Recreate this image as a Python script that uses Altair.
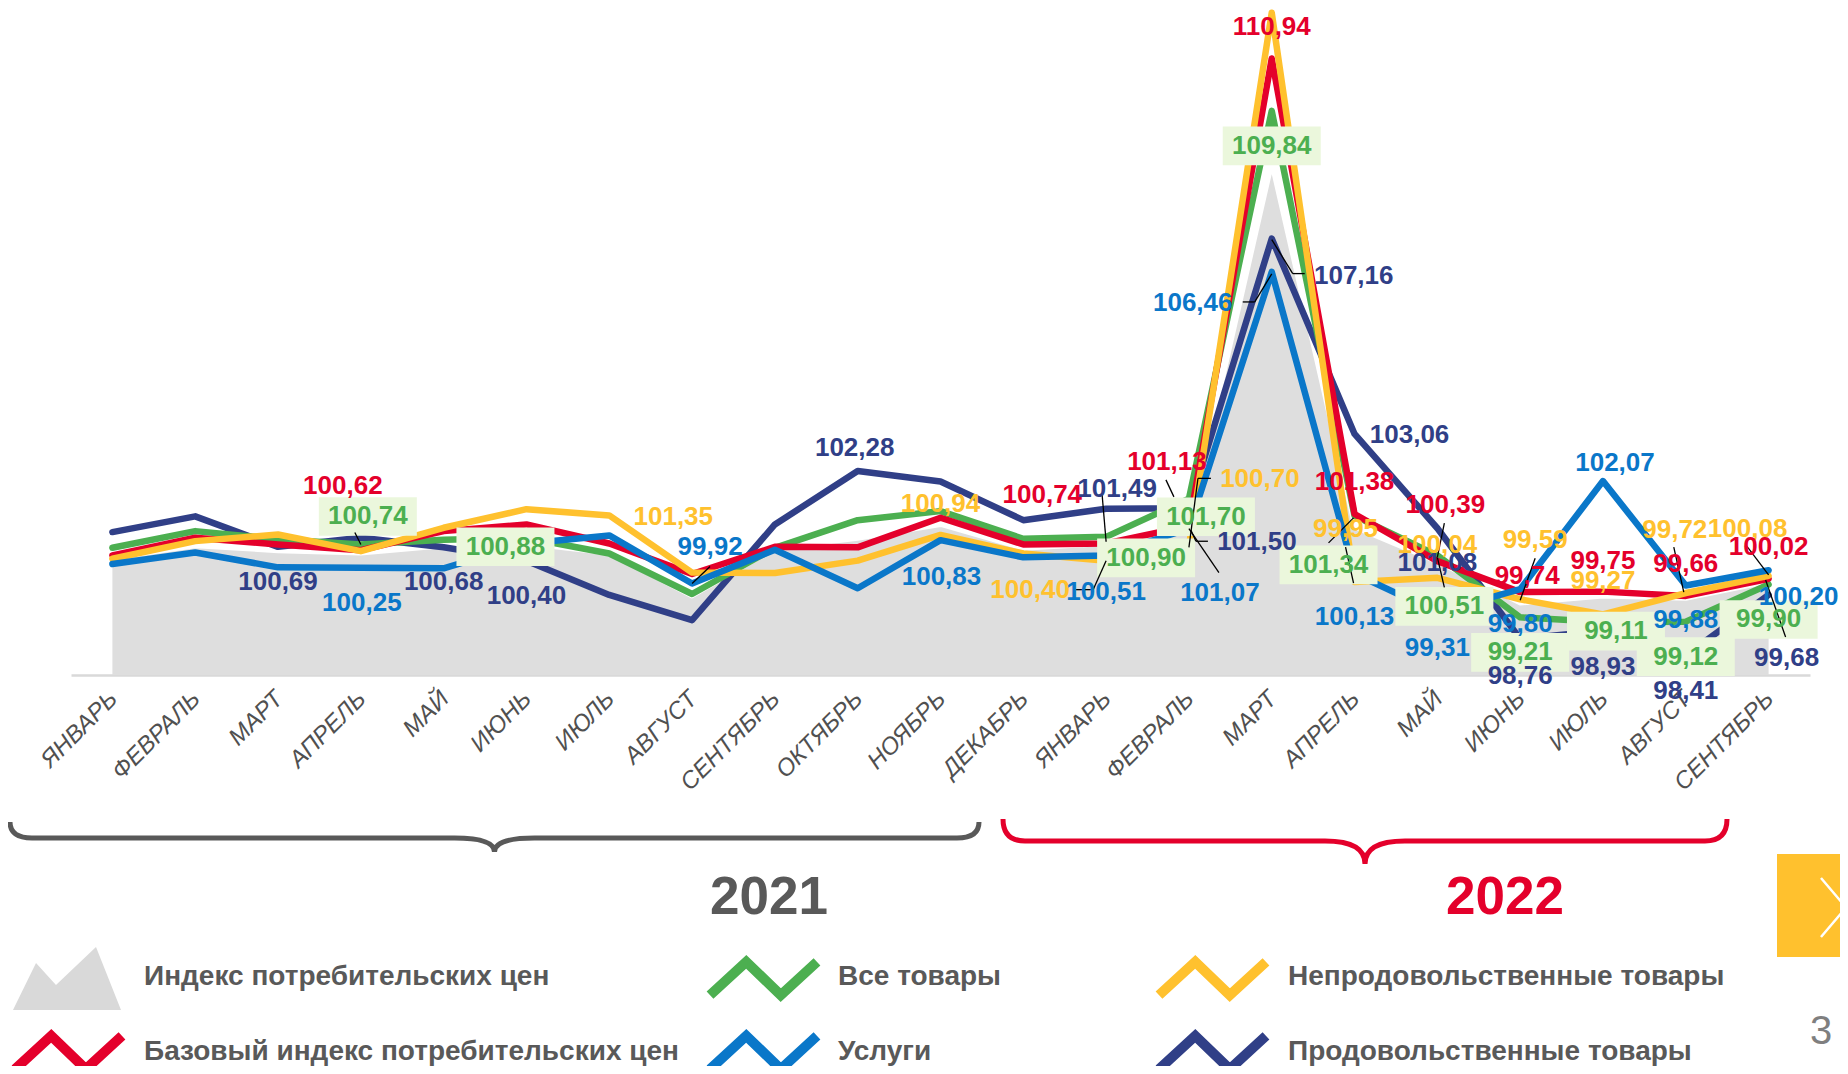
import altair as alt
import pandas as pd

# ---------------- data ----------------
months_2021 = ["ЯНВАРЬ", "ФЕВРАЛЬ", "МАРТ", "АПРЕЛЬ", "МАЙ", "ИЮНЬ", "ИЮЛЬ",
               "АВГУСТ", "СЕНТЯБРЬ", "ОКТЯБРЬ", "НОЯБРЬ", "ДЕКАБРЬ"]
months_2022 = ["ЯНВАРЬ", "ФЕВРАЛЬ", "МАРТ", "АПРЕЛЬ", "МАЙ", "ИЮНЬ", "ИЮЛЬ",
               "АВГУСТ", "СЕНТЯБРЬ"]
month_labels = months_2021 + months_2022
year_labels = ["2021", "2022"]

cpi       = [100.45, 100.70, 100.60, 100.55, 100.70, 100.75, 100.55, 99.65, 100.65, 100.86, 101.15, 100.65,
             100.75, 101.10, 108.70, 101.10, 100.37, 99.50, 99.65, 99.60, 99.95]
base_cpi  = [100.51, 100.88, 100.74, 100.62, 101.02, 101.16, 100.76, 100.12, 100.69, 100.68, 101.30, 100.74,
             100.76, 101.13, 110.94, 101.38, 100.39, 99.74, 99.75, 99.66, 100.02]
all_goods = [100.67, 101.02, 100.85, 100.74, 100.84, 100.88, 100.55, 99.70, 100.67, 101.25, 101.44, 100.86,
             100.90, 101.70, 109.84, 101.34, 100.51, 99.21, 99.11, 99.12, 99.90]
services  = [100.33, 100.57, 100.26, 100.25, 100.24, 100.76, 100.93, 99.92, 100.63, 99.82, 100.83, 100.47,
             100.51, 101.07, 106.46, 100.13, 99.31, 99.80, 102.07, 99.88, 100.20]
nonfood   = [100.44, 100.81, 100.95, 100.60, 101.09, 101.48, 101.35, 100.15, 100.14, 100.40, 100.94, 100.55,
             100.40, 100.70, 111.90, 99.95, 100.04, 99.59, 99.27, 99.72, 100.08]
food      = [101.00, 101.33, 100.69, 100.88, 100.68, 100.40, 99.68, 99.15, 101.16, 102.28, 102.06, 101.25,
             101.49, 101.50, 107.16, 103.06, 101.08, 98.76, 98.93, 98.41, 99.68]

series_names = {
    "cpi": "Индекс потребительских  цен",
    "goods": "Все товары",
    "nonfood": "Непродовольственные товары",
    "base": "Базовый индекс потребительских цен",
    "services": "Услуги",
    "food": "Продовольственные товары",
}
series_values = {"cpi": cpi, "base": base_cpi, "goods": all_goods,
                 "services": services, "nonfood": nonfood, "food": food}

# ---------------- style ----------------
colors = {"cpi": "#DEDEDE", "base": "#E4002B", "goods": "#4CAF50",
          "services": "#0A77C9", "nonfood": "#FFC12E", "food": "#303F87"}
GREY_TXT = "#595959"
SANS = "'Liberation Sans', Arial, sans-serif"

W, H = 1739, 667
PADL, PADT, PADR, PADB = 63, 0, 30, 391
YMIN, YMAX = 98.0, 112.0
N = len(month_labels)
STEP = W / N
PXU = H / (YMAX - YMIN)

# label placement: (series, month index, dx px, dy px) relative to the point
label_place = [
    ("base", 3, -18, -64), ("goods", 3, 7, -28), ("food", 2, 0, 35), ("services", 3, 1, 35),
    ("food", 4, 0, 35), ("goods", 5, -21, 9), ("food", 5, 0, 35), ("nonfood", 6, 64, 2),
    ("services", 7, 18, -37), ("food", 9, -3, -23), ("nonfood", 10, 0, -31), ("services", 10, 1, 37),
    ("base", 11, 19, -49), ("nonfood", 12, -76, 29), ("services", 12, 0, 37), ("food", 12, 11, -20),
    ("goods", 12, 40, 21), ("base", 13, -22, -64), ("nonfood", 13, 71, -67), ("goods", 13, 17, 18),
    ("food", 13, 68, 34), ("services", 13, 31, 64), ("base", 14, 0, -32), ("goods", 14, 0, 35),
    ("food", 14, 82, 37), ("services", 14, -79, 31), ("food", 15, 55, 1), ("base", 15, 0, -32),
    ("nonfood", 15, -9, -53), ("goods", 15, -26, 49), ("services", 15, 0, 43), ("base", 16, 8, -56),
    ("nonfood", 16, 0, -33), ("food", 16, 0, 35), ("goods", 16, 7, 51), ("services", 16, 0, 35),
    ("nonfood", 17, 15, -59), ("base", 17, 7, -16), ("services", 17, 0, 35), ("goods", 17, 0, 35),
    ("food", 17, 0, 37), ("services", 18, 12, -18), ("base", 18, 0, -31), ("nonfood", 18, 0, -33),
    ("goods", 18, 13, 9), ("food", 18, 0, 36), ("nonfood", 19, -11, -63), ("base", 19, 0, -32),
    ("services", 19, 0, 35), ("goods", 19, 0, 35), ("food", 19, 0, 36), ("nonfood", 20, -21, -47),
    ("base", 20, 0, -32), ("services", 20, 30, 27), ("goods", 20, 0, 35), ("food", 20, 18, 63),
]
# leader segments: (series, month index, x1, y1, x2, y2) px relative to the point
leader_place = [
    ("goods", 3, 0, 0, -6, -12), ("services", 7, 0, 0, 18, -17),
    ("nonfood", 12, 0, 0, -13, 29), ("nonfood", 12, -13, 29, -30, 29),
    ("food", 12, -4, -14, 0, 33), ("base", 13, -23, -46, -15, -29),
    ("nonfood", 13, 0, 1, 9, -68), ("nonfood", 13, 9, -68, 22, -68),
    ("food", 13, 2, 22, 7, 33), ("food", 13, 7, 33, 19, 33), ("services", 13, 0, 0, 30, 44),
    ("food", 14, 0, 1, 21, 35), ("food", 14, 21, 35, 33, 35),
    ("services", 14, 0, 2, -17, 30), ("services", 14, -17, 30, -29, 30),
    ("goods", 15, -26, 27, -1, 2), ("nonfood", 15, -9, -35, -1, 1),
    ("base", 16, 7, -38, 0, -4), ("goods", 16, 0, 2, 7, 32),
    ("nonfood", 17, 15, -41, 0, 1), ("nonfood", 19, -12, -46, -2, -1),
    ("nonfood", 20, -22, -30, 0, -1), ("food", 20, -3, -15, 17, 42),
]

# ---------------- tables ----------------
def series_df(k):
    return pd.DataFrame({"x": list(range(N)), "y": series_values[k], "series": k})

lab_rows = []
for k, i, dx, dy in label_place:
    v = series_values[k][i]
    lab_rows.append({"series": k, "x": i + dx / STEP, "y": v - dy / PXU,
                     "text": f"{v:.2f}".replace(".", ",")})
df_lab = pd.DataFrame(lab_rows)
df_box = df_lab[df_lab["series"] == "goods"]

lead_rows = []
for k, i, x1, y1, x2, y2 in leader_place:
    v = series_values[k][i]
    lead_rows.append({"x": i + x1 / STEP, "y": v - y1 / PXU,
                      "x2": i + x2 / STEP, "y2": v - y2 / PXU})
df_lead = pd.DataFrame(lead_rows)

xs = alt.Scale(domain=[-0.5, N - 0.5], nice=False, zero=False)
ys = alt.Scale(domain=[YMIN, YMAX], nice=False, zero=False)

label_expr = "[" + ",".join(f"'{m}'" for m in month_labels) + "][datum.value]"
xaxis = alt.Axis(values=list(range(N)), labelExpr=label_expr, labelAngle=-45,
                 labelAlign="right", labelBaseline="middle", labelFont=SANS,
                 labelFontSize=24, labelFontStyle="italic", labelColor="#505050",
                 labelPadding=20, labelOffset=1, labelFlush=False, labelOverlap=False,
                 ticks=False, tickSize=0, grid=False, domainColor="#D9D9D9",
                 domainWidth=2.5, title=None)

area = alt.Chart(series_df("cpi")).mark_area(color=colors["cpi"], opacity=1).encode(
    x=alt.X("x:Q", scale=xs, axis=xaxis),
    y=alt.Y("y:Q", scale=ys, axis=None),
    y2=alt.datum(YMIN),
)
white_edge = alt.Chart(series_df("cpi")).mark_line(color="white", strokeWidth=4, strokeJoin="round").encode(
    x=alt.X("x:Q", scale=xs), y=alt.Y("y:Q", scale=ys))

lines = []
for k in ["food", "goods", "base", "nonfood", "services"]:
    lines.append(alt.Chart(series_df(k)).mark_line(
        color=colors[k], strokeWidth=6.5, strokeJoin="round", strokeCap="round").encode(
        x=alt.X("x:Q", scale=xs), y=alt.Y("y:Q", scale=ys)))

box_shape = "M-1,-0.394L1,-0.394L1,0.394L-1,0.394Z"
boxes = alt.Chart(df_box).mark_point(shape=box_shape, size=98 * 98, filled=True,
                                     color="#EBF7DC", opacity=1, strokeWidth=0).encode(
    x=alt.X("x:Q", scale=xs), y=alt.Y("y:Q", scale=ys))

leaders = alt.Chart(df_lead).mark_rule(color="black", strokeWidth=1.3).encode(
    x=alt.X("x:Q", scale=xs), y=alt.Y("y:Q", scale=ys), x2="x2:Q", y2="y2:Q")

keys = list(colors.keys())
labels = alt.Chart(df_lab).mark_text(font=SANS, fontSize=26, fontWeight="bold",
                                     align="center", baseline="middle").encode(
    x=alt.X("x:Q", scale=xs), y=alt.Y("y:Q", scale=ys), text="text:N",
    color=alt.Color("series:N", scale=alt.Scale(domain=keys, range=[colors[k] for k in keys]), legend=None))

one = pd.DataFrame({"a": [0]})

def text_at(x, y, s, size, color, font=SANS, weight="bold", align="center"):
    return alt.Chart(one).mark_text(text=s, font=font, fontSize=size, fontWeight=weight,
                                    color=color, align=align, baseline="middle").encode(
        x=alt.value(x), y=alt.value(y))

def shape_at(x, y, path, size, color, sw, filled=False):
    if filled:
        m = alt.Chart(one).mark_point(shape=path, size=size, filled=True, color=color,
                                      opacity=1, strokeWidth=0)
    else:
        m = alt.Chart(one).mark_point(shape=path, size=size, filled=False, color=color,
                                      opacity=1, strokeWidth=sw, strokeJoin="miter", strokeCap="butt")
    return m.encode(x=alt.value(x), y=alt.value(y))

def brace_path(w, up, down, r=22, c=40):
    s = w / 2
    h = w / 2
    def p(x, y):
        return f"{x / s:.5f},{y / s:.5f}"
    return ("M" + p(-h, -up) + "Q" + p(-h, 0) + " " + p(-h + r, 0) + "L" + p(-c, 0) +
            "Q" + p(0, 0) + " " + p(0, down) + "Q" + p(0, 0) + " " + p(c, 0) +
            "L" + p(h - r, 0) + "Q" + p(h, 0) + " " + p(h, -up))

decor = []
# braces and years
decor.append(alt.Chart(one).mark_point(shape=brace_path(969, 16, 14), size=969 * 969, filled=False,
                                       color=GREY_TXT, opacity=1, strokeWidth=5).encode(
    x=alt.value(423.5), y=alt.value(830)))
decor.append(alt.Chart(one).mark_point(shape=brace_path(724, 22, 23), size=724 * 724, filled=False,
                                       color="#E4002B", opacity=1, strokeWidth=5).encode(
    x=alt.value(1294), y=alt.value(833)))
decor.append(text_at(698, 890, year_labels[0], 53, GREY_TXT))
decor.append(text_at(1434, 890, year_labels[1], 53, "#E4002B"))

# legend
zig = "M-0.93,0.29L-0.3,-0.29L0.3,0.29L0.93,-0.29"
mountain = "M-1,0.583L-0.574,-0.287L-0.204,0.12L0.537,-0.583L1,0.583Z"
legend_layout = [("cpi", -4, 970.5, 73, 969), ("goods", 692.5, 970.5, 767, 969),
                 ("nonfood", 1141.5, 970.5, 1217, 969), ("base", -2.5, 1044.5, 73, 1044),
                 ("services", 692.5, 1044.5, 767, 1044), ("food", 1141.5, 1044.5, 1217, 1044)]
for k, ix, iy, tx, ty in legend_layout:
    if k == "cpi":
        decor.append(shape_at(ix, iy, mountain, 108 * 108, "#D9D9D9", 0, filled=True))
    else:
        decor.append(shape_at(ix, iy, zig, 115 * 115, colors[k], 10))
    decor.append(text_at(tx, ty, series_names[k], 28, GREY_TXT, align="left"))

# page decorations
decor.append(alt.Chart(one).mark_rect(color="#FFC12E").encode(
    x=alt.value(1706), x2=alt.value(1790), y=alt.value(846), y2=alt.value(949)))
decor.append(alt.Chart(one).mark_point(shape="M-0.424,-1L0.424,0L-0.424,1", size=59 * 59, filled=False,
                                       color="white", opacity=1, strokeWidth=2.5).encode(
    x=alt.value(1762.5), y=alt.value(899.5)))
decor.append(text_at(1750, 1024, "3", 40, "#7F7F7F", weight="normal"))

chart = alt.layer(area, white_edge, *lines, boxes, leaders, labels, *decor).properties(
    width=W, height=H,
    padding={"left": PADL, "top": PADT, "right": PADR, "bottom": PADB},
    autosize=alt.AutoSizeParams(type="none"),
    background="white",
).configure_view(stroke=None, strokeWidth=0)

chart.save("out.html", embed_options={"renderer": "svg", "actions": False})
